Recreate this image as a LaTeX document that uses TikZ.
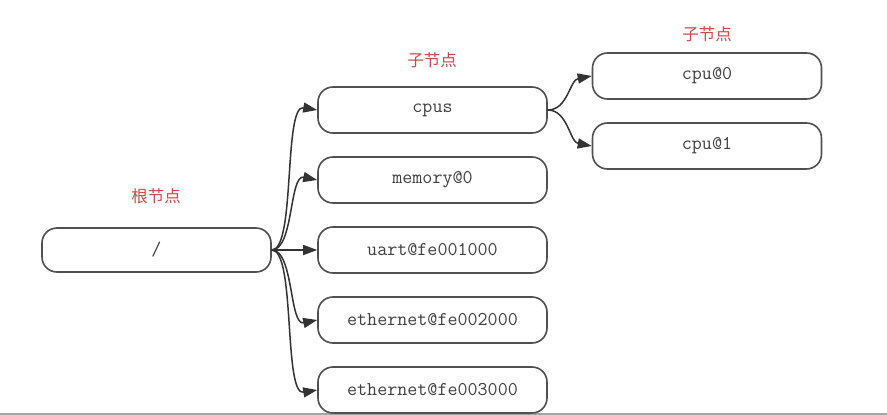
\documentclass[tikz,border=0pt]{standalone}
\usepackage{fontspec}
\newfontfamily\cjk{Noto Sans CJK SC}
\usetikzlibrary{arrows.meta}
\definecolor{boxline}{HTML}{505050}
\definecolor{txt}{HTML}{404040}
\definecolor{lbl}{HTML}{D04848}
\tikzset{
  nbox/.style={draw=boxline, line width=1.6pt, rounded corners=15pt, minimum width=229pt, minimum height=46pt, inner sep=0pt, font=\ttfamily\fontsize{19.5}{21}\selectfont, text=txt},
  lab/.style={font=\cjk\fontsize{16.5}{18}\selectfont, text=lbl},
  conn/.style={draw=black!80, line width=1.5pt, -{Triangle[length=14pt,width=10pt]}}
}
\begin{document}
\begin{tikzpicture}[x=1pt,y=-1pt]
\useasboundingbox (0,0) rectangle (887,415);
\fill[white] (0,0) rectangle (887,415);
\draw[gray!70, line width=2pt] (0,414) -- (887,414);

\node[nbox, minimum height=44pt] (root) at (156.5,250) {/};
\node[nbox] (cpus) at (432.5,110) {cpus};
\node[nbox] (mem) at (432.5,180) {memory@0};
\node[nbox] (uart) at (432.5,250) {uart@fe001000};
\node[nbox] (eth2) at (432.5,320) {ethernet@fe002000};
\node[nbox] (eth3) at (432.5,390) {ethernet@fe003000};
\node[nbox] (cpu0) at (707,76) {cpu@0};
\node[nbox] (cpu1) at (707,146) {cpu@1};

\node[lab] (l1) at (156,196) {根节点};
\node[lab] (l2) at (432,60) {子节点};
\node[lab] (l3) at (707,34) {子节点};

\draw[conn] (root.east) .. controls +(24,0) and +(-34,-6) .. (cpus.west);
\draw[conn] (root.east) .. controls +(22,0) and +(-28,-6) .. (mem.west);
\draw[conn] (root.east) -- (uart.west);
\draw[conn] (root.east) .. controls +(22,0) and +(-28,6) .. (eth2.west);
\draw[conn] (root.east) .. controls +(24,0) and +(-34,6) .. (eth3.west);
\draw[conn] (cpus.east) .. controls +(20,0) and +(-22,4) .. (cpu0.west);
\draw[conn] (cpus.east) .. controls +(20,0) and +(-22,-4) .. (cpu1.west);
\end{tikzpicture}
\end{document}
